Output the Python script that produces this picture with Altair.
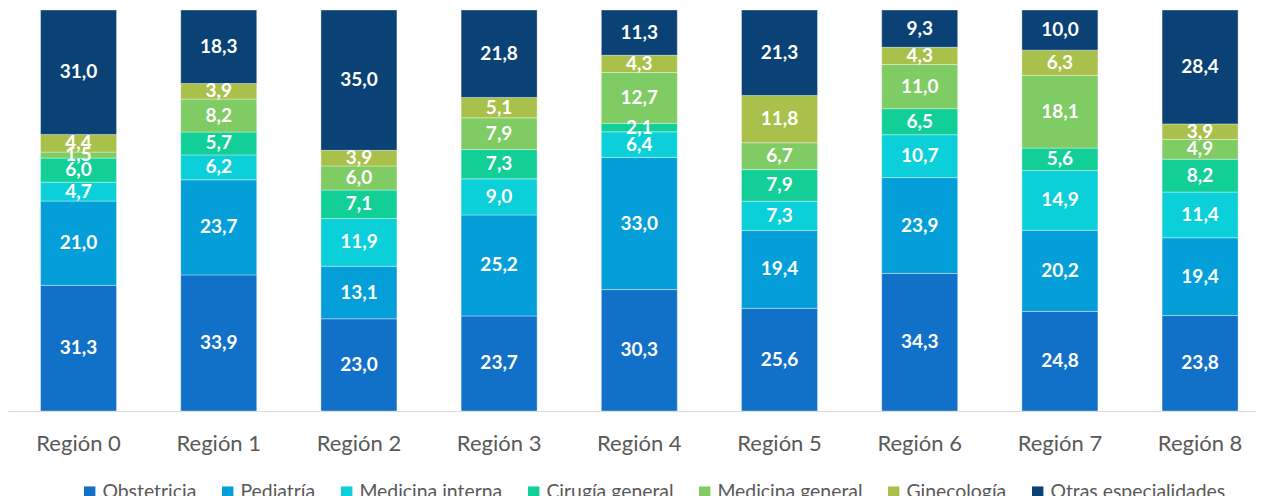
import altair as alt
import pandas as pd

regions = [f"Región {i}" for i in range(9)]
categories = ["Obstetricia", "Pediatría", "Medicina interna", "Cirugía general",
              "Medicina general", "Ginecología", "Otras especialidades"]
colors = ["#1170C8", "#049FD9", "#0BD0D9", "#12CF97", "#7FCB64", "#A9C14A", "#0B4276"]

obstetricia = [31.3, 33.9, 23.0, 23.7, 30.3, 25.6, 34.3, 24.8, 23.8]
pediatria = [21.0, 23.7, 13.1, 25.2, 33.0, 19.4, 23.9, 20.2, 19.4]
med_interna = [4.7, 6.2, 11.9, 9.0, 6.4, 7.3, 10.7, 14.9, 11.4]
cirugia = [6.0, 5.7, 7.1, 7.3, 2.1, 7.9, 6.5, 5.6, 8.2]
med_general = [1.5, 8.2, 6.0, 7.9, 12.7, 6.7, 11.0, 18.1, 4.9]
ginecologia = [4.4, 3.9, 3.9, 5.1, 4.3, 11.8, 4.3, 6.3, 3.9]
otras = [31.0, 18.3, 35.0, 21.8, 11.3, 21.3, 9.3, 10.0, 28.4]

series = [obstetricia, pediatria, med_interna, cirugia, med_general, ginecologia, otras]

rows = []
for ci, (cat, vals) in enumerate(zip(categories, series)):
    for r, v in zip(regions, vals):
        rows.append({"region": r, "categoria": cat, "orden": ci, "valor": v,
                     "label": f"{v:.1f}".replace(".", ",")})
df = pd.DataFrame(rows)

FONT = "Lato"

base = alt.Chart(df).transform_stack(
    stack="valor", as_=["y0", "y1"], groupby=["region"],
    sort=[alt.SortField("orden", order="ascending")], offset="normalize"
).transform_calculate(ym="(datum.y0 + datum.y1) / 2")

xenc = alt.X("region:N", sort=regions,
             scale=alt.Scale(paddingInner=0.458, paddingOuter=0.18, align=0.645),
             axis=alt.Axis(title=None, labelAngle=0, ticks=False, domainColor="#D9D9D9",
                           domainWidth=1.2, labelFont=FONT, labelFontSize=22,
                           labelColor="#595959", labelPadding=22))

bars = base.mark_bar(stroke="white", strokeWidth=0.7, strokeOpacity=0.5).encode(
    x=xenc,
    y=alt.Y("y0:Q", scale=alt.Scale(domain=[0, 1]), axis=None),
    y2="y1:Q",
    color=alt.Color("categoria:N", sort=categories,
                    scale=alt.Scale(domain=categories, range=colors),
                    legend=alt.Legend(title=None, orient="none", legendX=72, legendY=472,
                                      padding=0,
                                      direction="horizontal", symbolType="square",
                                      symbolSize=130, symbolStrokeWidth=0,
                                      labelFont=FONT, labelFontSize=19.4,
                                      labelColor="#595959", labelOffset=3,
                                      labelLimit=400,
                                      columnPadding=21)),
    order=alt.Order("orden:Q"),
)

text = base.mark_text(color="white", font=FONT, fontWeight="bold", fontSize=19,
                      baseline="middle").encode(
    x=alt.X("region:N", sort=regions),
    y=alt.Y("ym:Q", scale=alt.Scale(domain=[0, 1])),
    text="label:N",
)

chart = (bars + text).properties(
    width=1248, height=401, autosize="none",
    padding={"top": 2, "left": 0, "right": 0, "bottom": 85},
).configure_view(stroke=None)

chart.save("out.html", embed_options={"renderer": "svg", "actions": False})
